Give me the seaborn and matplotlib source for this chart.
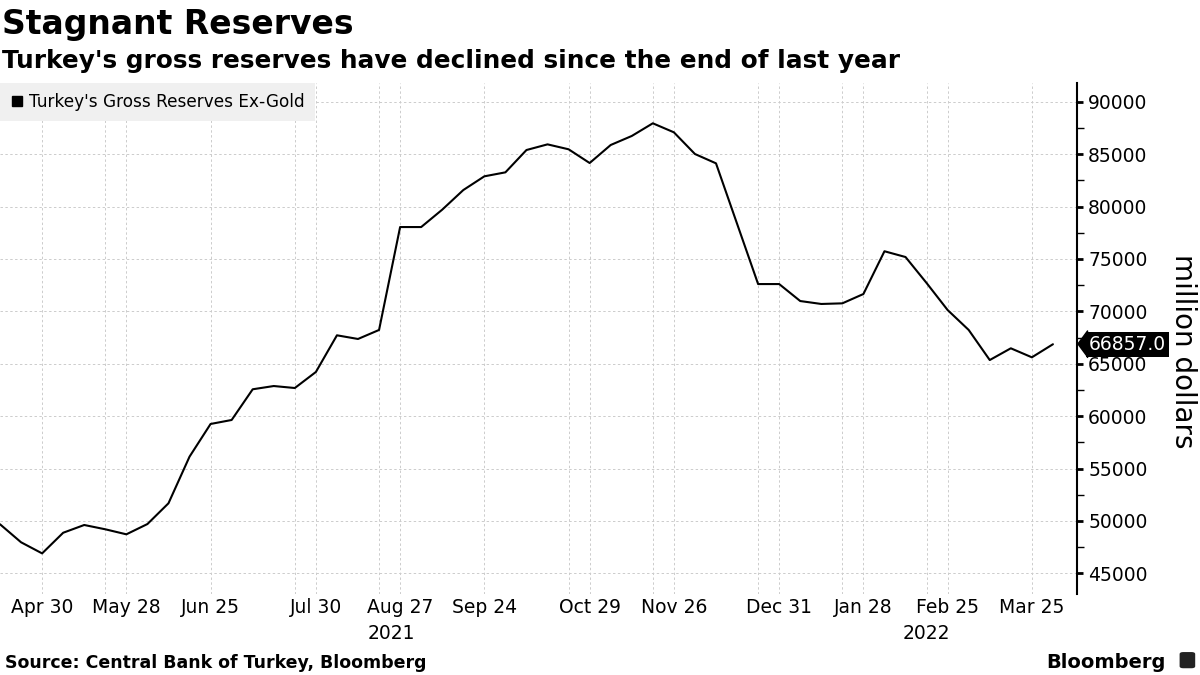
import pandas as pd
import numpy as np
import seaborn as sns
import matplotlib.pyplot as plt
from matplotlib.lines import Line2D
from matplotlib.ticker import MultipleLocator, StrMethodFormatter
from matplotlib.patches import FancyBboxPatch

# Weekly gross reserves ex-gold, million dollars
start_date = "2021-04-16"
reserves = [49680, 47960, 46900, 48870, 49610, 49200, 48720, 49700, 51680, 56130,
            59250, 59630, 62560, 62870, 62680, 64210, 67710, 67360, 68220, 78040,
            78040, 79700, 81570, 82880, 83260, 85390, 85930, 85460, 84150, 85870,
            86730, 87940, 87080, 85010, 84120, 78360, 72600, 72600, 70980, 70700,
            70760, 71650, 75730, 75180, 72700, 70120, 68220, 65350, 66470, 65610, 66857]

tick_dates = ["2021-04-30", "2021-05-28", "2021-06-25", "2021-07-30", "2021-08-27",
              "2021-09-24", "2021-10-29", "2021-11-26", "2021-12-31", "2022-01-28",
              "2022-02-25", "2022-03-25"]
extra_grid_dates = ["2021-05-21", "2021-07-23", "2021-08-20", "2021-10-22",
                    "2021-11-19", "2021-12-24", "2022-01-21", "2022-02-18"]
year_labels = {"2021": "2021-08-24", "2022": "2022-02-18"}

df = pd.DataFrame({
    "date": pd.date_range(start_date, periods=len(reserves), freq="7D"),
    "reserves": reserves,
})

sns.set_style("white")
plt.rcParams["font.family"] = ["DejaVu Sans"]
plt.rcParams["text.color"] = "black"
plt.rcParams["axes.labelcolor"] = "black"
plt.rcParams["xtick.color"] = "black"
plt.rcParams["ytick.color"] = "black"

fig = plt.figure(figsize=(12, 6.75), dpi=100)
ax = fig.add_axes([0.0, 0.12, 0.8975, 0.7575])

sns.lineplot(data=df, x="date", y="reserves", color="black", linewidth=1.5,
             legend=False, ax=ax, zorder=3)

# axes ranges
ax.set_xlim(pd.Timestamp(start_date), pd.Timestamp("2022-04-09"))
ax.set_ylim(43025, 91815)

# x ticks
ticks = pd.to_datetime(tick_dates)
ax.set_xticks(ticks)
ax.set_xticklabels([d.strftime("%b %d") for d in ticks], fontsize=13.5)
ax.set_xticks(pd.to_datetime(extra_grid_dates), minor=True)
ax.tick_params(axis="x", which="both", length=0, pad=3)
for label, d in year_labels.items():
    ax.text(pd.Timestamp(d), -0.078, label, transform=ax.get_xaxis_transform(),
            ha="center", va="center", fontsize=13.5)

# y axis on the right
ax.yaxis.tick_right()
ax.yaxis.set_major_locator(MultipleLocator(5000))
ax.yaxis.set_minor_locator(MultipleLocator(2500))
ax.yaxis.set_major_formatter(StrMethodFormatter("{x:.0f}"))
ax.tick_params(axis="y", which="major", labelsize=13.5, length=4, width=2, pad=4,
               direction="out")
ax.tick_params(axis="y", which="minor", length=5, width=1, direction="out")
ax.yaxis.set_label_position("right")
ax.set_ylabel("million dollars", rotation=270, fontsize=20, va="center", ha="center")
ax.yaxis.set_label_coords(1.098, 0.475)
ax.set_xlabel("")

for side in ["top", "left", "bottom"]:
    ax.spines[side].set_visible(False)
ax.spines["right"].set_color("black")
ax.spines["right"].set_linewidth(1.5)

# grid
grid_kw = dict(color="#cccccc", linestyle=(0, (2.5, 2.5)), linewidth=0.7)
ax.grid(True, which="major", axis="both", **grid_kw)
ax.grid(True, which="minor", axis="x", **grid_kw)
ax.set_axisbelow(True)

# legend
handle = Line2D([], [], marker="s", color="black", linestyle="none", markersize=7)
leg = ax.legend([handle], ["Turkey's Gross Reserves Ex-Gold"], loc="upper left",
                bbox_to_anchor=(0, 1), borderaxespad=0, frameon=True,
                facecolor="#f0f0f0", edgecolor="none", fancybox=False,
                handlelength=0.8, handletextpad=0.3, borderpad=0.6, fontsize=12.2)
leg.get_frame().set_alpha(1)
leg.set_zorder(5)

# last value tag
last = df["reserves"].iloc[-1]
ax.plot([1.0], [last], marker=[(0, 0), (10, 13.5), (10, -13.5)], markersize=19.5,
        color="black", transform=ax.get_yaxis_transform(), clip_on=False, zorder=6)
ax.annotate(f"{last:.1f}", xy=(1.0, last), xycoords=("axes fraction", "data"),
            xytext=(8.6, 0), textcoords="offset points", ha="left", va="center",
            color="white", fontsize=13.5, zorder=7,
            bbox=dict(boxstyle="square,pad=0.15", fc="black", ec="none"))

# titles and footer
fig.text(0.002, 0.950, "Stagnant Reserves", fontsize=23.8, fontweight="bold", va="baseline")
fig.text(0.002, 0.899, "Turkey's gross reserves have declined since the end of last year",
         fontsize=17.8, fontweight="bold", va="baseline")
fig.text(0.004, 0.011, "Source: Central Bank of Turkey, Bloomberg", fontsize=12.5,
         fontweight="bold", va="baseline")
fig.text(0.971, 0.011, "Bloomberg", fontsize=14, fontweight="bold", va="baseline", ha="right")
fig.patches.append(FancyBboxPatch((0.984, 0.011), 0.011, 0.022,
                                  boxstyle="round,pad=0.001,rounding_size=0.003",
                                  transform=fig.transFigure, fc="#222222", ec="none"))

fig.savefig("out.png", dpi=100)
